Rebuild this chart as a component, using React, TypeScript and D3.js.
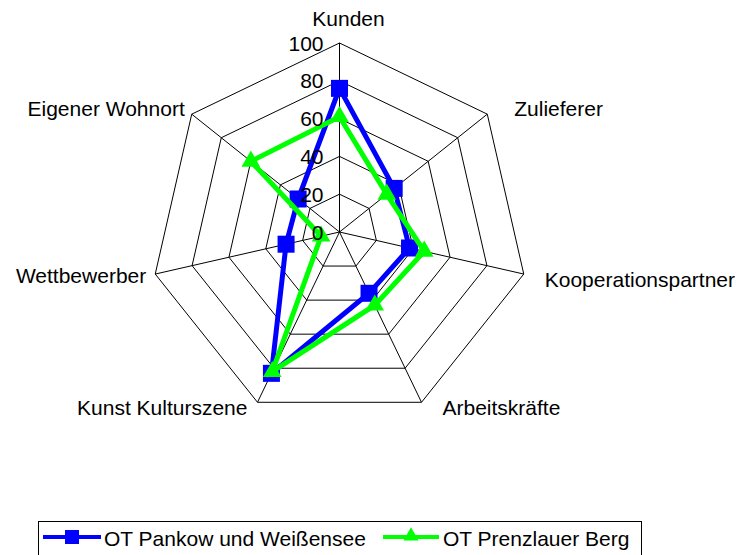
import React from "react";
import * as d3 from "d3";

const categories = ["Kunden", "Zulieferer", "Kooperationspartner", "Arbeitskräfte", "Kunst Kulturszene", "Wettbewerber", "Eigener Wohnort"];
const seriesNames = ["OT Pankow und Weißensee", "OT Prenzlauer Berg"];
const pankow = [76, 37, 38, 36, 83, 29, 28];
const prenzlauer = [61, 32, 46, 43, 82, 10, 60];
const ticks = [0, 20, 40, 60, 80, 100];

const W = 748;
const H = 555;
const cx = 339.5;
const cy = 232;
const R = 189;
const FONT = "Liberation Sans, Arial, sans-serif";

export default function App() {
  const n = categories.length;
  const r = d3.scaleLinear().domain([0, 100]).range([0, R]);
  const angle = (i: number) => (i * 2 * Math.PI) / n;
  const pt = (i: number, v: number): [number, number] => {
    const a = angle(i);
    return [cx + r(v) * Math.sin(a), cy - r(v) * Math.cos(a)];
  };
  const ringPath = (t: number) =>
    d3.line<number>()
      .x((_, i) => pt(i, t)[0])
      .y((_, i) => pt(i, t)[1])
      .curve(d3.curveLinearClosed)(categories.map(() => t)) as string;
  const seriesPath = (vals: number[]) =>
    d3.line<number>()
      .x((v, i) => pt(i, v)[0])
      .y((v, i) => pt(i, v)[1])
      .curve(d3.curveLinearClosed)(vals) as string;

  const labelPos = (i: number): { x: number; y: number; anchor: string } => {
    const [x, y] = pt(i, 100);
    const s = Math.sin(angle(i));
    const c = Math.cos(angle(i));
    if (Math.abs(s) < 0.1) return { x: x + 9, y: y - 17, anchor: "middle" };
    if (s > 0) {
      const dx = c < 0 ? 21 : c > 0.5 ? 27 : 30;
      return { x: x + dx, y: y + (c < 0 ? 13 : c > 0.5 ? 2 : 9), anchor: "start" };
    }
    const dx = c < -0.5 ? -10 : c > 0.5 ? -7 : -9;
    return { x: x + dx, y: y + (c < -0.5 ? 13 : c > 0.5 ? 2 : 9), anchor: "end" };
  };

  const tri = d3.symbol().type(d3.symbolTriangle).size(150)() as string;
  const triSmall = d3.symbol().type(d3.symbolTriangle).size(100)() as string;

  return (
    <svg width={W} height={H} style={{ position: "absolute", left: 0, top: 0, background: "#fff" }}>
      <g>
        {ticks.slice(1).map((t) => (
          <path key={t} d={ringPath(t)} fill="none" stroke="#000" strokeWidth={1} />
        ))}
        {categories.map((_, i) => {
          const [x, y] = pt(i, 100);
          return <line key={i} x1={cx} y1={cy} x2={x} y2={y} stroke="#000" strokeWidth={1} />;
        })}
      </g>
      <g>
        <path d={seriesPath(pankow)} fill="none" stroke="#0000FF" strokeWidth={5} strokeLinejoin="miter" />
        {pankow.map((v, i) => {
          const [x, y] = pt(i, v);
          return <rect key={i} x={x - 8.5} y={y - 8.5} width={17} height={17} fill="#0000FF" />;
        })}
        <path d={seriesPath(prenzlauer)} fill="none" stroke="#00FF00" strokeWidth={5} strokeLinejoin="miter" />
        {prenzlauer.map((v, i) => {
          const [x, y] = pt(i, v);
          return <path key={i} d={tri} transform={`translate(${x},${y})`} fill="#00FF00" />;
        })}
      </g>
      <g fontFamily={FONT} fontSize={21} fill="#000">
        {ticks.map((t) => (
          <text key={t} x={cx - 16} y={cy - r(t)} textAnchor="end" dominantBaseline="central">
            {t}
          </text>
        ))}
        {categories.map((c, i) => {
          const p = labelPos(i);
          return (
            <text key={c} x={p.x} y={p.y} textAnchor={p.anchor}>
              {c}
            </text>
          );
        })}
      </g>
      <g fontFamily={FONT} fontSize={21}>
        <rect x={38.5} y={521.5} width={603} height={40} fill="#fff" stroke="#000" strokeWidth={1} />
        <line x1={43} x2={101} y1={537} y2={537} stroke="#0000FF" strokeWidth={4} />
        <rect x={65} y={530} width={14} height={14} fill="#0000FF" />
        <text x={104} y={546}>{seriesNames[0]}</text>
        <line x1={383} x2={439} y1={537} y2={537} stroke="#00FF00" strokeWidth={4} />
        <path d={triSmall} transform="translate(411,536)" fill="#00FF00" />
        <text x={443} y={546}>{seriesNames[1]}</text>
      </g>
    </svg>
  );
}
